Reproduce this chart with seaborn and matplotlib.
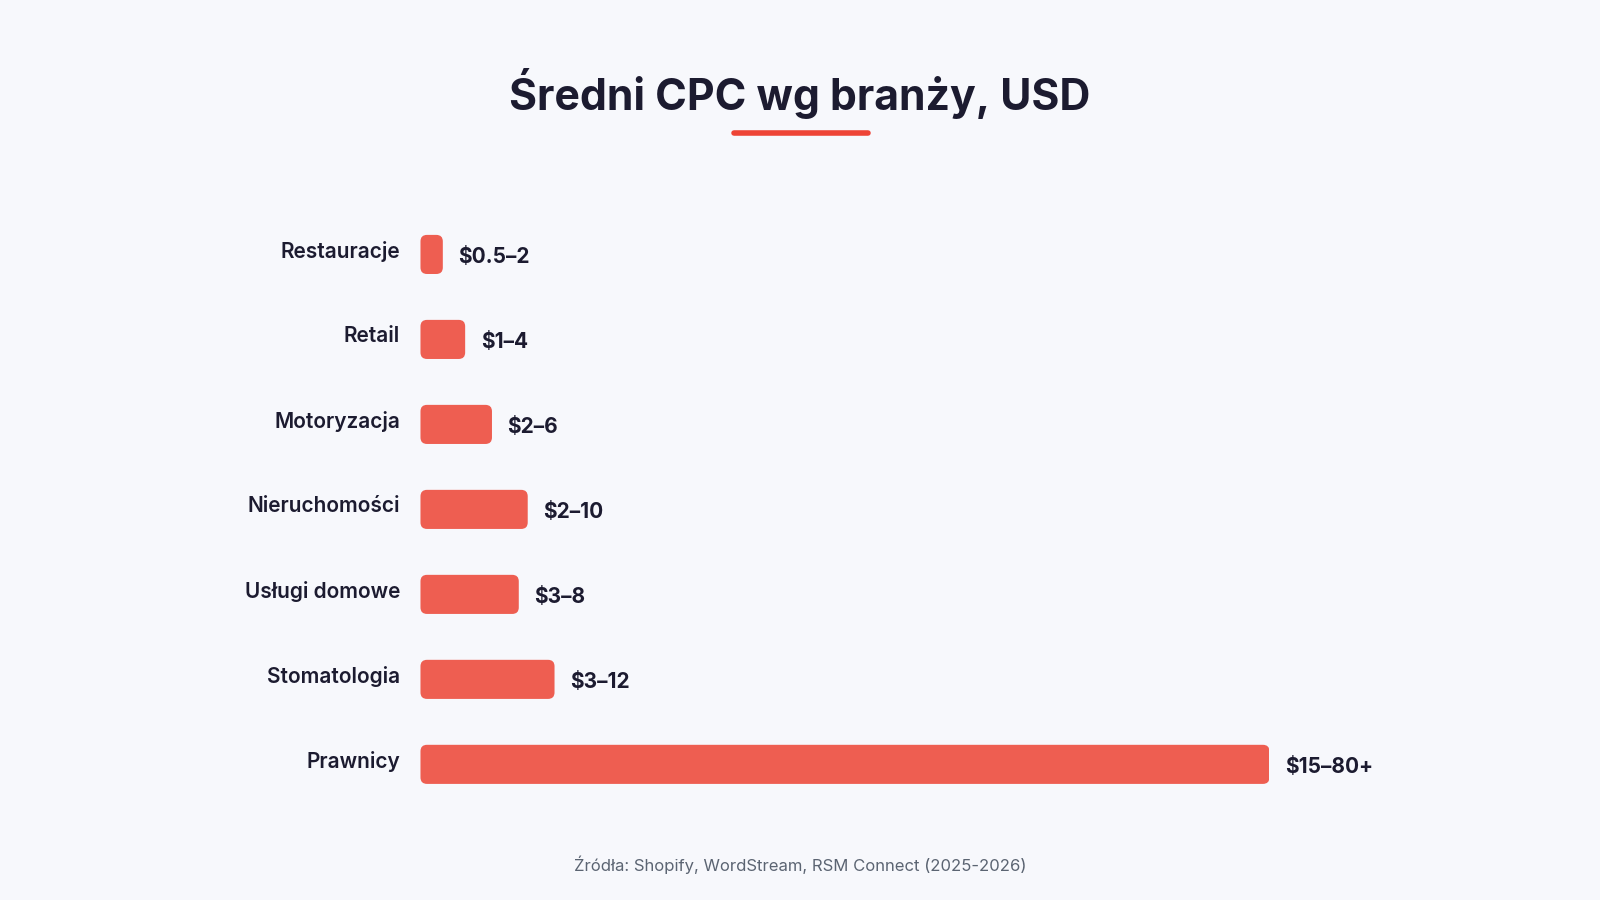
import seaborn as sns
import pandas as pd
import matplotlib.pyplot as plt
from matplotlib.patches import FancyBboxPatch
from matplotlib.lines import Line2D

# data
industries = ["Restauracje", "Retail", "Motoryzacja", "Nieruchomości",
              "Usługi domowe", "Stomatologia", "Prawnicy"]
cpc_low = [0.5, 1, 2, 2, 3, 3, 15]
cpc_high = [2, 4, 6, 10, 8, 12, 80]
cpc_labels = ["$0.5–2", "$1–4", "$2–6", "$2–10", "$3–8", "$3–12", "$15–80+"]

BG = "#F7F8FC"
BAR = "#EE5E51"
TEXT = "#1C1B30"
ACCENT = "#EE4436"

df = pd.DataFrame({"industry": industries,
                   "mid": [(a + b) / 2 for a, b in zip(cpc_low, cpc_high)],
                   "label": cpc_labels})

sns.set_theme(style="white")
plt.rcParams["font.family"] = ["Inter", "DejaVu Sans"]

fig = plt.figure(figsize=(16, 9), dpi=100, facecolor=BG)
ax = fig.add_axes([0.2628, 0.1035, 0.5306, 0.661])
ax.set_facecolor(BG)

sns.barplot(data=df, x="mid", y="industry", color=BAR, width=0.46,
            saturation=1, ax=ax)

ax.set_xlim(0, df["mid"].max())
ax.set_ylim(6.5, -0.5)

# swap plain rectangles for rounded ones
x_px = ax.get_window_extent().width / df["mid"].max()
y_px = ax.get_window_extent().height / 7
radius = 6.5 / x_px
for bar in list(ax.patches):
    x, y = bar.get_x(), bar.get_y()
    w, h = bar.get_width(), bar.get_height()
    bar.remove()
    r = min(radius, w / 2)
    ax.add_patch(FancyBboxPatch((x, y), w, h,
                                boxstyle=f"round,pad=0,rounding_size={r}",
                                mutation_aspect=x_px / y_px,
                                facecolor=BAR, edgecolor="none"))

for i, row in df.iterrows():
    ax.text(row["mid"] + 15.5 / x_px, i + 0.03, row["label"], va="center",
            ha="left", fontsize=15, fontweight="bold", color=TEXT, clip_on=False)
    ax.text(-20.5 / x_px, i - 0.035, row["industry"], va="center", ha="right",
            fontsize=15, fontweight="semibold", color=TEXT, clip_on=False)

ax.set_xlabel("")
ax.set_ylabel("")
ax.set_xticks([])
ax.set_yticks([])
sns.despine(ax=ax, left=True, bottom=True)

fig.text(0.5, 0.896, "Średni CPC wg branży, USD", ha="center", va="center",
         fontsize=30.8, fontweight="bold", color=TEXT)
fig.add_artist(Line2D([0.4585, 0.5425], [0.8526, 0.8526], color=ACCENT,
                      linewidth=4, solid_capstyle="round"))
fig.text(0.5, 0.0397, "Źródła: Shopify, WordStream, RSM Connect (2025-2026)",
         ha="center", va="center", fontsize=12, color="#5B6472")

fig.savefig("out.png", dpi=100, facecolor=BG)
